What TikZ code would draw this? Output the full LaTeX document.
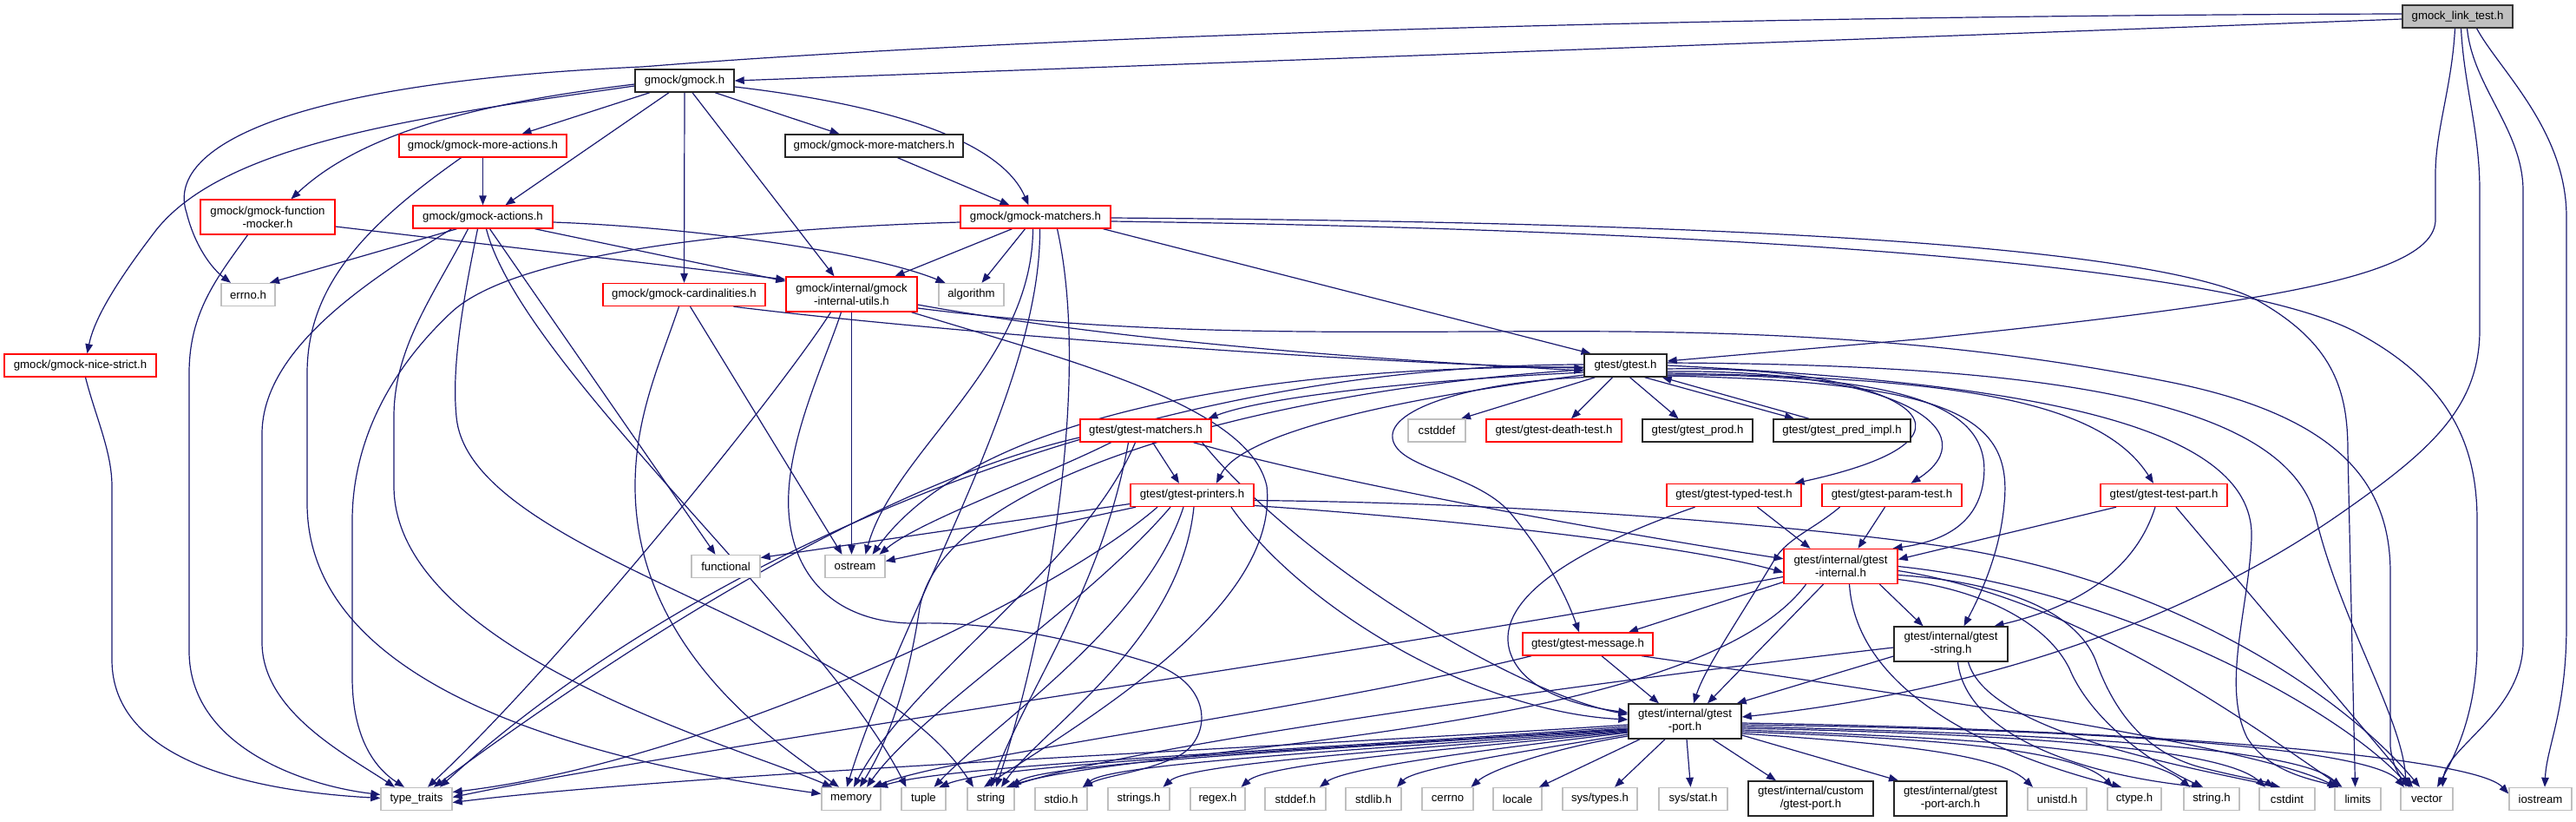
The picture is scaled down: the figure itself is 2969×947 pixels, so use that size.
\documentclass[tikz,border=0pt]{standalone}
\usepackage{fontspec}
\setmainfont{Liberation Sans}
\usetikzlibrary{arrows.meta}
\definecolor{edgec}{HTML}{191970}
\definecolor{redb}{HTML}{FF0000}
\definecolor{grayb}{HTML}{BFBFBF}
\definecolor{rootfill}{HTML}{BFBFBF}
\newcommand\nodefont{\fontsize{13.2}{15}\selectfont}
\pgfdeclarelayer{bg}
\pgfsetlayers{bg,main}
\tikzset{
  base/.style={draw, line width=1.4pt, inner sep=0pt, align=center, font=\nodefont, minimum height=26, fill=white},
  sysn/.style={base, draw=grayb},
  redn/.style={base, draw=redb},
  blkn/.style={base, draw=black!85},
  rootn/.style={base, draw=black!80, fill=rootfill},
  two/.style={minimum height=40},
  e/.style={draw=edgec, line width=1.2pt, -{Triangle[length=11pt,width=8.5pt]}},
}
\begin{document}
\begin{tikzpicture}[x=1pt,y=1pt]
\useasboundingbox (0,0) rectangle (2969,-947);
% ---------------- nodes
\node[rootn, minimum width=127] (L) at (2832.5,-19) {gmock\_link\_test.h};
\node[blkn, minimum width=114] (gmock) at (789,-93) {gmock/gmock.h};
\node[redn, minimum width=193] (moreact) at (556.5,-168) {gmock/gmock-more-actions.h};
\node[blkn, minimum width=205] (morematch) at (1007.5,-168) {gmock/gmock-more-matchers.h};
\node[redn, two, minimum width=155] (fmock) at (308.5,-250) {gmock/gmock-function\\-mocker.h};
\node[redn, minimum width=161] (actions) at (556.5,-250) {gmock/gmock-actions.h};
\node[redn, minimum width=173] (matchers) at (1193.5,-250) {gmock/gmock-matchers.h};
\node[sysn, minimum width=62] (errno) at (286,-339.5) {errno.h};
\node[redn, minimum width=187] (card) at (788.5,-339.5) {gmock/gmock-cardinalities.h};
\node[redn, two, minimum width=151] (iutils) at (981.5,-339) {gmock/internal/gmock\\-internal-utils.h};
\node[sysn, minimum width=75] (algorithm) at (1119.5,-339.5) {algorithm};
\node[redn, minimum width=175] (nice) at (92.5,-421) {gmock/gmock-nice-strict.h};
\node[blkn, minimum width=95] (gtest) at (1873.5,-421) {gtest/gtest.h};
\node[redn, minimum width=151] (gmatch) at (1320.5,-496) {gtest/gtest-matchers.h};
\node[sysn, minimum width=66] (cstddef) at (1656,-496) {cstddef};
\node[redn, minimum width=156] (death) at (1791,-496) {gtest/gtest-death-test.h};
\node[blkn, minimum width=127] (prod) at (1956.5,-496) {gtest/gtest\_prod.h};
\node[blkn, minimum width=158] (pred) at (2123,-496) {gtest/gtest\_pred\_impl.h};
\node[redn, minimum width=142] (printers) at (1374,-570.5) {gtest/gtest-printers.h};
\node[redn, minimum width=155] (typed) at (1998.5,-570.5) {gtest/gtest-typed-test.h};
\node[redn, minimum width=161] (param) at (2180.5,-570.5) {gtest/gtest-param-test.h};
\node[redn, minimum width=146] (testpart) at (2494,-570.5) {gtest/gtest-test-part.h};
\node[sysn, minimum width=79] (functional) at (836.5,-652.5) {functional};
\node[sysn, minimum width=69] (ostream) at (985.5,-652.5) {ostream};
\node[redn, two, minimum width=131] (ginternal) at (2121.5,-652.5) {gtest/internal/gtest\\-internal.h};
\node[redn, minimum width=150] (message) at (1830,-742) {gtest/gtest-message.h};
\node[blkn, two, minimum width=131] (gstring) at (2248.5,-742) {gtest/internal/gtest\\-string.h};
\node[blkn, two, minimum width=130] (port) at (1942,-831) {gtest/internal/gtest\\-port.h};
\node[sysn, minimum width=82] (typetraits) at (480,-920.5) {type\_traits};
\node[sysn, minimum width=68] (memory) at (981,-920.5) {memory};
\node[sysn, minimum width=51] (tuple) at (1064.5,-920.5) {tuple};
\node[sysn, minimum width=54] (string) at (1142,-920.5) {string};
\node[sysn, minimum width=60] (stdio) at (1223,-920.5) {stdio.h};
\node[sysn, minimum width=71] (strings) at (1312.5,-920.5) {strings.h};
\node[sysn, minimum width=63] (regex) at (1403.5,-920.5) {regex.h};
\node[sysn, minimum width=70] (stddef) at (1493,-920.5) {stddef.h};
\node[sysn, minimum width=64] (stdlib) at (1583,-920.5) {stdlib.h};
\node[sysn, minimum width=59] (cerrno) at (1668.5,-920.5) {cerrno};
\node[sysn, minimum width=56] (locale) at (1749,-920.5) {locale};
\node[sysn, minimum width=86] (systypes) at (1844,-920.5) {sys/types.h};
\node[sysn, minimum width=79] (sysstat) at (1951.5,-920.5) {sys/stat.h};
\node[blkn, two, minimum width=144] (custom) at (2087,-920) {gtest/internal/custom\\/gtest-port.h};
\node[blkn, two, minimum width=130] (arch) at (2248,-920) {gtest/internal/gtest\\-port-arch.h};
\node[sysn, minimum width=68] (unistd) at (2371,-920.5) {unistd.h};
\node[sysn, minimum width=62] (ctype) at (2460,-920.5) {ctype.h};
\node[sysn, minimum width=64] (stringh) at (2549,-920.5) {string.h};
\node[sysn, minimum width=64] (cstdint) at (2636,-920.5) {cstdint};
\node[sysn, minimum width=53] (limits) at (2717.5,-920.5) {limits};
\node[sysn, minimum width=60] (vector) at (2797,-920.5) {vector};
\node[sysn, minimum width=72] (iostream) at (2928,-920.5) {iostream};
% ---------------- edges
\begin{pgfonlayer}{bg}
\fill[white] (0,0) rectangle (2969,-947);
% gmock_link_test.h
\draw[e] ([yshift=-3]L.west) -- (gmock.east);
\draw[e] ([yshift=3]L.west) .. controls (2000,-18) and (1200,-40) .. (740,-77) .. controls (330,-95) and (190,-170) .. (215,-245) .. controls (225,-285) and (245,-310) .. ([xshift=-20]errno.north);
\draw[e] ([xshift=-3]L.south) .. controls (2826,-100) and (2807,-150) .. (2807,-200) -- (2807,-253) .. controls (2807,-320) and (2600,-350) .. (2220,-390) -- ([yshift=5]gtest.east);
\draw[e] ([xshift=4]L.south) .. controls (2840,-100) and (2858,-150) .. (2858,-220) -- (2858,-380) .. controls (2858,-470) and (2800,-520) .. (2700,-590) .. controls (2500,-730) and (2250,-800) .. ([yshift=5]port.east);
\draw[e] ([xshift=11]L.south) .. controls (2850,-100) and (2908,-150) .. (2908,-220) -- (2908,-740) .. controls (2908,-820) and (2820,-860) .. ([xshift=18]vector.north);
\draw[e] ([xshift=22]L.south) .. controls (2880,-80) and (2958,-150) .. (2958,-250) -- (2958,-720) .. controls (2958,-820) and (2935,-860) .. ([xshift=5]iostream.north);
% gmock.h
\draw[e] ([yshift=-6]gmock.west) .. controls (480,-135) and (260,-165) .. (180,-265) .. controls (130,-330) and (108,-370) .. ([xshift=8]nice.north);
\draw[e] ([yshift=-4]gmock.west) .. controls (560,-118) and (420,-150) .. ([xshift=27]fmock.north);
\draw[e] ([xshift=-40]gmock.south) -- ([xshift=45]moreact.north);
\draw[e] ([xshift=-18]gmock.south) -- ([xshift=26]actions.north);
\draw[e] (gmock.south) -- (card.north);
\draw[e] ([xshift=9]gmock.south) -- ([xshift=-20]iutils.north);
\draw[e] ([xshift=35]gmock.south) -- ([xshift=-40]morematch.north);
\draw[e] ([yshift=-7]gmock.east) .. controls (1000,-118) and (1150,-155) .. ([xshift=-8]matchers.north);
% more-actions / more-matchers
\draw[e] (moreact.south) -- (actions.north);
\draw[e] ([xshift=-25]moreact.south) .. controls (420,-260) and (354,-330) .. (354,-430) -- (354,-580) .. controls (354,-800) and (700,-880) .. ([yshift=6]memory.west);
\draw[e] ([xshift=27]morematch.south) -- ([xshift=-30]matchers.north);
% function-mocker / nice-strict
\draw[e] ([yshift=-11]fmock.east) -- ([yshift=17]iutils.west);
\draw[e] ([xshift=-23]fmock.south) .. controls (250,-320) and (218,-360) .. (218,-430) -- (218,-750) .. controls (218,-860) and (350,-905) .. ([yshift=5]typetraits.west);
\draw[e] ([xshift=6]nice.south) .. controls (110,-480) and (129,-520) .. (129,-560) -- (129,-760) .. controls (129,-880) and (300,-912) .. ([yshift=1]typetraits.west);
% actions
\draw[e] ([xshift=-30]actions.south) -- ([xshift=25]errno.north);
\draw[e] ([xshift=-36]actions.south) .. controls (430,-320) and (302,-400) .. (302,-500) -- (302,-740) .. controls (302,-820) and (400,-870) .. ([xshift=-25]typetraits.north);
\draw[e] ([xshift=-17]actions.south) .. controls (500,-340) and (454,-400) .. (454,-480) -- (454,-560) .. controls (454,-750) and (850,-860) .. ([xshift=-22]memory.north);
\draw[e] ([xshift=-6]actions.south) .. controls (535,-340) and (520,-420) .. (526,-480) .. controls (540,-640) and (1000,-720) .. ([xshift=-20]string.north);
\draw[e] ([xshift=4]actions.south) .. controls (600,-420) and (950,-720) .. ([xshift=-20]tuple.north);
\draw[e] ([xshift=8]actions.south) -- ([xshift=-12]functional.north);
\draw[e] ([yshift=-6]actions.east) .. controls (800,-262) and (1000,-290) .. ([xshift=-30]algorithm.north);
\draw[e] ([xshift=60]actions.south) -- ([yshift=15]iutils.west);
% matchers
\draw[e] ([xshift=-27]matchers.south) -- ([xshift=50]iutils.north);
\draw[e] ([xshift=-12]matchers.south) -- ([xshift=12]algorithm.north);
\draw[e] ([xshift=78]matchers.south) -- ([xshift=-40]gtest.north);
\draw[e] ([yshift=-1]matchers.east) .. controls (1800,-255) and (2450,-270) .. (2600,-345) .. controls (2690,-395) and (2706,-450) .. (2706,-520) -- ([xshift=-3]limits.north);
\draw[e] ([yshift=-5]matchers.east) .. controls (1800,-262) and (2550,-290) .. (2720,-385) .. controls (2830,-445) and (2855,-520) .. (2855,-600) -- (2855,-740) .. controls (2855,-820) and (2830,-870) .. ([xshift=12]vector.north);
\draw[e] ([xshift=-3]matchers.south) .. controls (1190,-420) and (1030,-520) .. ([xshift=12]ostream.north);
\draw[e] ([xshift=5]matchers.south) .. controls (1200,-450) and (1040,-700) .. ([xshift=-5]memory.north);
\draw[e] ([xshift=25]matchers.south) .. controls (1260,-450) and (1200,-750) .. ([xshift=6]string.north);
\draw[e] ([yshift=-6]matchers.west) .. controls (900,-262) and (600,-285) .. (520,-360) .. controls (440,-435) and (406,-520) .. (406,-600) -- (406,-780) .. controls (406,-860) and (440,-890) .. ([xshift=-14]typetraits.north);
% cardinalities
\draw[e] ([xshift=57]card.south) .. controls (1100,-385) and (1600,-420) .. ([yshift=-3]gtest.west);
\draw[e] ([xshift=-6]card.south) .. controls (760,-420) and (732,-480) .. (732,-560) .. controls (732,-750) and (900,-860) .. ([xshift=-14]memory.north);
\draw[e] ([xshift=7]card.south) -- ([xshift=-15]ostream.north);
% internal-utils
\draw[e] ([yshift=-12]iutils.east) .. controls (1300,-395) and (1600,-415) .. ([yshift=-6]gtest.west);
\draw[e] ([yshift=-16]iutils.east) .. controls (1350,-392) and (1600,-380) .. (1870,-382) .. controls (2100,-384) and (2300,-400) .. (2500,-440) .. controls (2700,-480) and (2755,-560) .. (2755,-660) -- (2755,-860) .. controls (2757,-880) and (2765,-895) .. ([xshift=-18]vector.north);
\draw[e] (iutils.south) -- ([xshift=-4]ostream.north);
\draw[e] ([xshift=-24]iutils.south) .. controls (900,-450) and (650,-760) .. ([xshift=13]typetraits.north);
\draw[e] ([xshift=-12]iutils.south) .. controls (950,-420) and (900,-520) .. (910,-600) .. controls (920,-680) and (980,-720) .. (1060,-718) .. controls (1150,-716) and (1250,-740) .. (1330,-765) .. controls (1400,-790) and (1395,-850) .. (1360,-870) .. controls (1320,-890) and (1275,-893) .. ([xshift=25]stdio.north);
\draw[e] ([xshift=69]iutils.south) .. controls (1250,-420) and (1440,-470) .. (1460,-560) .. controls (1475,-700) and (1250,-830) .. ([xshift=-8]string.north);
% gtest.h
\draw[e] ([yshift=-8]gtest.west) .. controls (1600,-440) and (1450,-460) .. ([xshift=72]gmatch.north);
\draw[e] ([yshift=-11]gtest.west) .. controls (1600,-460) and (1430,-500) .. ([xshift=28]printers.north);
\draw[e] ([xshift=-35]gtest.south) -- ([xshift=28]cstddef.north);
\draw[e] ([xshift=-15]gtest.south) -- ([xshift=20]death.north);
\draw[e] ([xshift=5]gtest.south) -- ([xshift=-22]prod.north);
\draw[e] ([xshift=22]gtest.south) -- ([xshift=-55]pred.north);
\draw[e] ([xshift=-38]pred.north) -- ([xshift=-6]gtest.south east);
\draw[e] ([yshift=-4]gtest.east) .. controls (2180,-420) and (2330,-500) .. ([xshift=70]typed.north);
\draw[e] ([yshift=-7]gtest.east) .. controls (2200,-425) and (2290,-500) .. ([xshift=22]param.north);
\draw[e] ([yshift=-9]gtest.east) .. controls (2250,-435) and (2420,-460) .. ([xshift=-12]testpart.north);
\draw[e] ([yshift=-11]gtest.east) .. controls (2230,-430) and (2300,-480) .. (2285,-560) .. controls (2275,-610) and (2230,-625) .. ([xshift=60]ginternal.north);
\draw[e] ([yshift=-12]gtest.east) .. controls (2250,-440) and (2320,-480) .. (2310,-580) .. controls (2305,-640) and (2280,-690) .. ([xshift=15]gstring.north);
\draw[e] (gtest.south west) .. controls (1700,-440) and (1600,-470) .. (1605,-505) .. controls (1610,-540) and (1700,-545) .. (1740,-590) .. controls (1790,-650) and (1810,-700) .. ([xshift=-10]message.north);
\draw[e] ([yshift=-5]gtest.west) .. controls (1500,-445) and (1090,-540) .. (1060,-700) .. controls (1045,-800) and (1020,-860) .. ([xshift=10]memory.north);
\draw[e] ([yshift=-2]gtest.west) .. controls (1450,-420) and (1120,-480) .. ([xshift=20]ostream.north);
\draw[e] ([yshift=1]gtest.west) .. controls (1300,-420) and (800,-640) .. ([xshift=27]typetraits.north);
\draw[e] ([yshift=3]gtest.east) .. controls (2400,-420) and (2640,-470) .. (2670,-600) .. controls (2700,-720) and (2770,-830) .. ([xshift=-24]vector.north);
\draw[e] (gtest.east) .. controls (2300,-440) and (2600,-480) .. (2595,-620) .. controls (2592,-700) and (2560,-790) .. (2590,-850) .. controls (2615,-890) and (2665,-898) .. ([xshift=-22]limits.north);
% gtest-matchers
\draw[e] ([xshift=8]gmatch.south) -- ([xshift=-15]printers.north);
\draw[e] ([xshift=-40]gmatch.south) .. controls (1200,-550) and (1060,-600) .. ([xshift=28]ostream.north);
\draw[e] ([xshift=-12]gmatch.south) .. controls (1250,-650) and (1050,-780) .. ([xshift=3]memory.north);
\draw[e] ([xshift=-20]gmatch.south) .. controls (1270,-680) and (1180,-800) .. ([xshift=0]string.north);
\draw[e] ([xshift=55]gmatch.south) .. controls (1550,-560) and (1900,-620) .. ([yshift=-12]ginternal.north west);
\draw[e] ([xshift=65]gmatch.south) .. controls (1500,-650) and (1750,-800) .. ([yshift=8]port.west);
\draw[e] ([yshift=-8]gmatch.west) .. controls (1000,-560) and (700,-760) .. ([xshift=20]typetraits.north);
% gtest-printers
\draw[e] ([yshift=-10]printers.west) -- ([yshift=10]functional.east);
\draw[e] ([xshift=-65]printers.south) -- ([yshift=6]ostream.east);
\draw[e] ([xshift=-40]printers.south) .. controls (1200,-700) and (800,-880) .. ([yshift=8]typetraits.east);
\draw[e] ([xshift=-25]printers.south) .. controls (1250,-700) and (1060,-820) .. ([xshift=18]memory.north);
\draw[e] ([xshift=-10]printers.south) .. controls (1320,-720) and (1150,-830) .. ([xshift=12]tuple.north);
\draw[e] ([xshift=2]printers.south) .. controls (1360,-740) and (1200,-840) .. ([xshift=12]string.north);
\draw[e] ([yshift=-6]printers.east) .. controls (1800,-580) and (2100,-610) .. (2230,-628) .. controls (2500,-665) and (2700,-800) .. ([xshift=-8]vector.north);
\draw[e] ([yshift=-12]printers.east) .. controls (1700,-600) and (1950,-630) .. ([yshift=-7]ginternal.west);
\draw[e] ([xshift=45]printers.south) .. controls (1500,-700) and (1700,-820) .. ([yshift=2]port.west);
% typed / param / test-part
\draw[e] ([xshift=27]typed.south) -- ([xshift=-35]ginternal.north);
\draw[e] ([xshift=-45]typed.south) .. controls (1850,-620) and (1720,-680) .. (1740,-750) .. controls (1755,-800) and (1830,-815) .. ([yshift=10]port.west);
\draw[e] ([xshift=-8]param.south) -- ([xshift=20]ginternal.north);
\draw[e] ([xshift=-60]param.south) .. controls (2090,-610) and (2060,-620) .. (2045,-645) .. controls (2000,-720) and (1965,-770) .. ([xshift=10]port.north);
\draw[e] ([xshift=-55]testpart.south) -- ([yshift=8]ginternal.east);
\draw[e] ([xshift=-10]testpart.south) .. controls (2460,-660) and (2390,-700) .. ([xshift=50]gstring.north);
\draw[e] ([xshift=14]testpart.south) -- ([xshift=-16]vector.north);
% gtest-internal
\draw[e] ([xshift=-20]ginternal.south) -- ([xshift=26]port.north);
\draw[e] ([yshift=-18]ginternal.west) -- ([xshift=47]message.north);
\draw[e] ([xshift=45]ginternal.south) -- ([xshift=-32]gstring.north);
\draw[e] ([yshift=-12]ginternal.west) .. controls (1600,-750) and (800,-860) .. ([yshift=2]typetraits.east);
\draw[e] ([xshift=-40]ginternal.south) .. controls (1950,-850) and (1300,-860) .. ([xshift=18]string.north);
\draw[e] ([xshift=10]ginternal.south) .. controls (2140,-800) and (2300,-870) .. ([xshift=-15]ctype.north);
\draw[e] ([yshift=-15]ginternal.east) .. controls (2290,-680) and (2360,-720) .. (2385,-770) .. controls (2410,-830) and (2480,-880) .. ([xshift=-10]stringh.north);
\draw[e] ([yshift=-10]ginternal.east) .. controls (2300,-670) and (2390,-700) .. (2415,-760) .. controls (2440,-830) and (2480,-870) .. (2540,-885) .. controls (2580,-895) and (2610,-900) .. ([xshift=-15]cstdint.north);
\draw[e] ([yshift=-5]ginternal.east) .. controls (2400,-690) and (2600,-840) .. ([xshift=-18]limits.north);
\draw[e] (ginternal.east) .. controls (2450,-680) and (2700,-820) .. ([xshift=-20]vector.north);
% gtest-message
\draw[e] ([xshift=16]message.south) -- ([xshift=-30]port.north);
\draw[e] ([xshift=-65]message.south) .. controls (1500,-820) and (1100,-870) .. ([xshift=25]memory.north);
\draw[e] ([xshift=62]message.south) .. controls (2200,-800) and (2600,-860) .. ([xshift=-24]limits.north);
% gtest-string
\draw[e] ([yshift=-14]gstring.west) -- ([xshift=-6]port.north east);
\draw[e] ([yshift=-4]gstring.west) .. controls (1800,-790) and (1300,-860) .. ([xshift=21]string.north);
\draw[e] ([xshift=8]gstring.south) .. controls (2265,-840) and (2380,-890) .. ([xshift=-12]stringh.north);
\draw[e] ([xshift=20]gstring.south) .. controls (2290,-840) and (2500,-880) .. ([xshift=-8]cstdint.north);
% gtest-port
\draw[e] ([yshift=-4]port.west) .. controls (1500,-860) and (800,-890) .. ([yshift=-4]typetraits.east);
\draw[e] ([yshift=-6]port.west) .. controls (1500,-865) and (1100,-880) .. ([xshift=31]memory.north);
\draw[e] ([yshift=-8]port.west) .. controls (1500,-865) and (1150,-880) .. ([xshift=18]tuple.north);
\draw[e] ([yshift=-9]port.west) .. controls (1500,-865) and (1200,-880) .. ([xshift=24]string.north);
\draw[e] ([yshift=-10]port.west) .. controls (1550,-865) and (1280,-880) .. ([xshift=25]stdio.north);
\draw[e] ([yshift=-11]port.west) .. controls (1600,-865) and (1370,-880) .. ([xshift=28]strings.north);
\draw[e] ([yshift=-12]port.west) .. controls (1650,-865) and (1460,-880) .. ([xshift=27]regex.north);
\draw[e] ([yshift=-13]port.west) .. controls (1700,-865) and (1550,-885) .. ([xshift=28]stddef.north);
\draw[e] ([yshift=-15]port.west) .. controls (1760,-865) and (1630,-885) .. ([xshift=27]stdlib.north);
\draw[e] ([yshift=-17]port.west) .. controls (1800,-860) and (1720,-885) .. ([xshift=27]cerrno.north);
\draw[e] ([xshift=-52]port.south) -- ([xshift=25]locale.north);
\draw[e] ([xshift=-23]port.south) -- ([xshift=17]systypes.north);
\draw[e] ([xshift=2]port.south) -- ([xshift=-3]sysstat.north);
\draw[e] ([xshift=32]port.south) -- ([xshift=-40]custom.north);
\draw[e] ([yshift=-16]port.east) -- ([xshift=-60]arch.north);
\draw[e] ([yshift=-14]port.east) .. controls (2150,-855) and (2300,-865) .. ([xshift=-28]unistd.north);
\draw[e] ([yshift=-12]port.east) .. controls (2200,-850) and (2390,-860) .. ([xshift=-25]ctype.north);
\draw[e] ([yshift=-10]port.east) .. controls (2250,-850) and (2470,-860) .. ([xshift=-25]stringh.north);
\draw[e] ([yshift=-8]port.east) .. controls (2300,-845) and (2560,-860) .. ([xshift=-25]cstdint.north);
\draw[e] ([yshift=-6]port.east) .. controls (2350,-845) and (2650,-860) .. ([xshift=-20]limits.north);
\draw[e] ([yshift=-4]port.east) .. controls (2400,-840) and (2730,-860) .. ([xshift=-26]vector.north);
\draw[e] ([yshift=-2]port.east) .. controls (2450,-840) and (2850,-870) .. ([yshift=6]iostream.west);
\end{pgfonlayer}
\end{tikzpicture}
\end{document}
